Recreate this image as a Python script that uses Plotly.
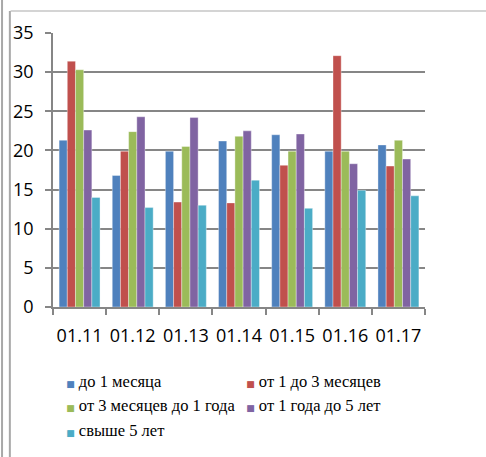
import plotly.graph_objects as go

categories = ["01.11", "01.12", "01.13", "01.14", "01.15", "01.16", "01.17"]
series_names = ["до 1 месяца", "от 1 до 3 месяцев", "от 3 месяцев до 1 года",
                "от 1 года до 5 лет", "свыше 5 лет"]
up_to_1m = [21.3, 16.8, 19.9, 21.2, 22.0, 19.9, 20.7]
from_1_to_3m = [31.4, 19.9, 13.4, 13.3, 18.1, 32.1, 18.0]
from_3m_to_1y = [30.3, 22.4, 20.5, 21.8, 19.9, 19.9, 21.3]
from_1y_to_5y = [22.6, 24.3, 24.2, 22.5, 22.1, 18.3, 18.9]
over_5y = [14.0, 12.7, 13.0, 16.2, 12.6, 14.9, 14.2]
colors = ["#4F81BD", "#C0504D", "#9BBB59", "#8064A2", "#4BACC6"]

series = [up_to_1m, from_1_to_3m, from_3m_to_1y, from_1y_to_5y, over_5y]

fig = go.Figure()
for name, vals, c in zip(series_names, series, colors):
    fig.add_trace(go.Bar(x=categories, y=vals, name=name, marker_color=c,
                         marker_line_width=0.6, marker_line_color="rgba(255,255,255,0.6)",
                         legendgroup=name, showlegend=False))
for name, c in zip(series_names, colors):
    label = (f"<span style='font-family:DejaVu Sans;font-size:9px;color:{c}'>■</span> "
             f"{name}")
    fig.add_trace(go.Scatter(x=[None], y=[None], mode="markers", name=label,
                             legendgroup=name,
                             marker=dict(symbol="square", size=1, color="rgba(0,0,0,0)")))

fig.update_layout(
    width=486, height=457,
    margin=dict(l=53, r=61, t=33, b=150, autoexpand=False),
    paper_bgcolor="white", plot_bgcolor="white",
    barmode="group", bargap=0.23, bargroupgap=0,
    font=dict(family="Open Sans", size=18, color="black"),
    legend=dict(orientation="h", x=-0.072, xanchor="left", y=-0.205, yanchor="top",
                entrywidth=135, entrywidthmode="pixels", itemwidth=30,
                font=dict(family="Liberation Serif", size=16.5, color="black"),
                tracegroupgap=0, bgcolor="rgba(0,0,0,0)"),
    shapes=[
        dict(type="line", xref="paper", yref="paper", x0=-0.114, x1=1.2, y0=1.08, y1=1.08,
             line=dict(color="#d4d4d4", width=2)),
        dict(type="line", xref="paper", yref="paper", x0=-0.137, x1=-0.137, y0=1.13, y1=-0.55,
             line=dict(color="#a8a8a8", width=2)),
        dict(type="line", xref="paper", yref="paper", x0=-0.116, x1=-0.116, y0=1.08, y1=-0.55,
             line=dict(color="#a8a8a8", width=2)),
    ],
)
fig.update_xaxes(showline=True, linecolor="#868686", linewidth=1.5, tickangle=0,
                 ticks="outside", tickson="boundaries", ticklen=6, tickcolor="#868686",
                 tickwidth=1.5, ticklabelstandoff=12, showgrid=False)
fig.update_yaxes(range=[0, 35], dtick=5, showline=True, linecolor="#868686", linewidth=1.5,
                 ticks="outside", ticklen=6, tickcolor="#868686", tickwidth=1.5,
                 gridcolor="#868686", gridwidth=1.5, zeroline=False, ticklabelstandoff=8)

fig.write_html("out.html", config={"displayModeBar": False},
               post_script="document.body.style.margin='0';")
